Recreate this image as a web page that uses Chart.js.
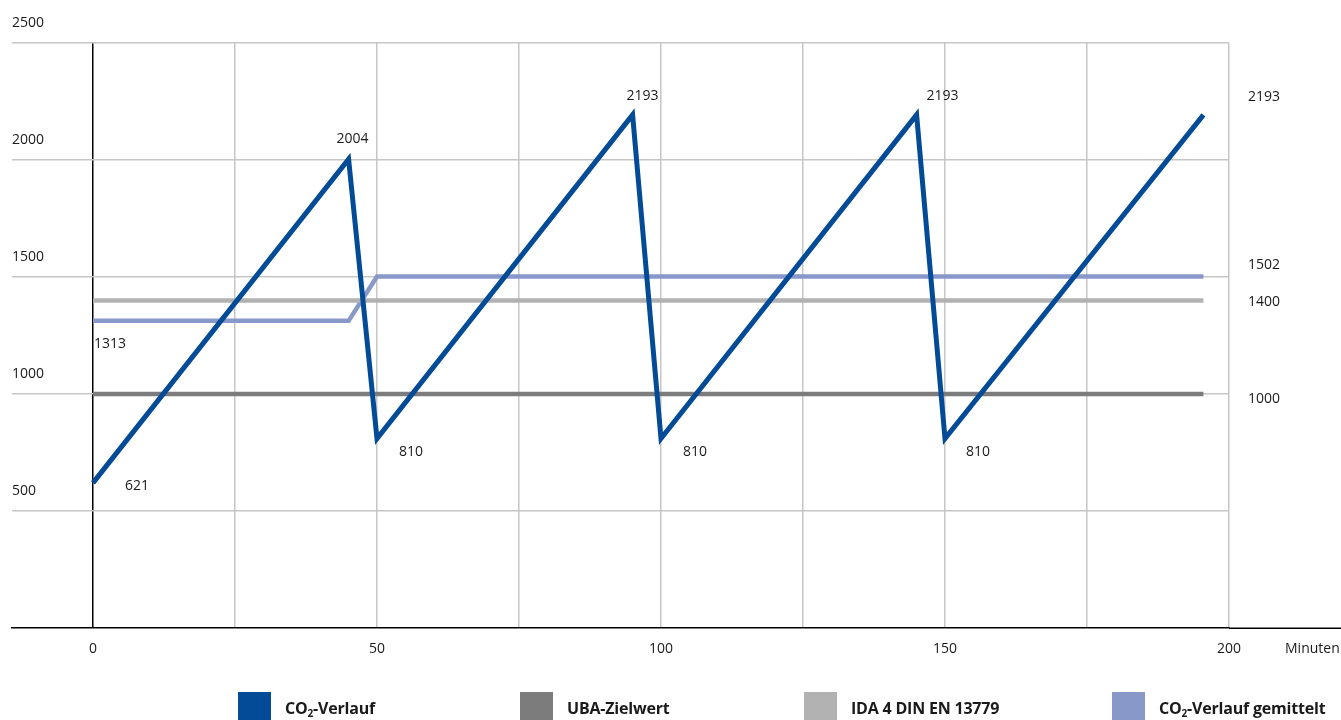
<!DOCTYPE html>
<html>
<head>
<meta charset="utf-8">
<script src="https://cdn.jsdelivr.net/npm/chart.js@4.4.1/dist/chart.umd.min.js"></script>
<style>
  html, body { margin: 0; padding: 0; background: #fff; }
  #wrap { position: relative; width: 1341px; height: 720px; overflow: hidden; }
  #chart { position: absolute; left: 0; top: 0; }
  .legend-item { position: absolute; top: 692px; height: 28px; display: flex; align-items: flex-start; }
  .legend-box { width: 33px; height: 28px; }
  .legend-txt { margin-left: 14px; margin-top: 7px; font-family: "Open Sans", sans-serif; font-weight: 700; font-size: 16px; color: #1a1a1a; letter-spacing: -0.2px; line-height: 18px; }
  .legend-txt sub { font-size: 10px; line-height: 0; vertical-align: -3px; }
</style>
</head>
<body>
<div id="wrap">
  <canvas id="chart" width="1341" height="720"></canvas>
  <div class="legend-item" style="left:238px"><div class="legend-box" style="background:#034b96"></div><div class="legend-txt">CO<sub>2</sub>-Verlauf</div></div>
  <div class="legend-item" style="left:520px"><div class="legend-box" style="background:#7c7c7c"></div><div class="legend-txt">UBA-Zielwert</div></div>
  <div class="legend-item" style="left:804px"><div class="legend-box" style="background:#b2b2b2"></div><div class="legend-txt">IDA 4 DIN EN 13779</div></div>
  <div class="legend-item" style="left:1112px"><div class="legend-box" style="background:#8898c9"></div><div class="legend-txt">CO<sub>2</sub>-Verlauf gemittelt</div></div>
</div>
<script>
// ---- data (minutes / ppm) ----
const co2Minutes = [0, 45, 50, 95, 100, 145, 150, 195.5];
const co2Verlauf = [621, 2004, 810, 2193, 810, 2193, 810, 2193];
const avgMinutes = [0, 45, 50, 195.5];
const co2Gemittelt = [1313, 1313, 1502, 1502];
const limitMinutes = [0, 195.5];
const ubaZielwert = [1000, 1000];
const idaGrenze = [1400, 1400];
const xTicks = [0, 25, 50, 75, 100, 125, 150, 175, 200];
const yTicks = [0, 500, 1000, 1500, 2000, 2500];

const FONT = '"Open Sans", sans-serif';
const GRID = '#c6c6c6';

function pts(xs, ys) {
  return xs.map(function(x, i) { return { x: x, y: ys[i] }; });
}

// value labels: dataset, point, offset of text (left, baseline) from point
const valueLabels = [
  { ds: 0, i: 0, dx: 32, dy: 7 },
  { ds: 0, i: 1, dx: -12, dy: -16 },
  { ds: 0, i: 2, dx: 22, dy: 17 },
  { ds: 0, i: 3, dx: -6, dy: -15 },
  { ds: 0, i: 4, dx: 22, dy: 17 },
  { ds: 0, i: 5, dx: 10, dy: -15 },
  { ds: 0, i: 6, dx: 21, dy: 17 },
  { ds: 3, i: 0, dx: 1, dy: 27 },
  // right column
  { ds: 0, i: 7, right: true, dy: -14 },
  { ds: 3, i: 3, right: true, dy: -8 },
  { ds: 2, i: 1, right: true, dy: 6 },
  { ds: 1, i: 1, right: true, dy: 9 }
];

const extras = {
  id: 'extras',
  afterDraw(chart) {
    const ctx = chart.ctx;
    const xs = chart.scales.x, ys = chart.scales.y;
    const ca = chart.chartArea;
    ctx.save();
    // x axis line runs on past the plot to the right edge
    ctx.strokeStyle = '#000';
    ctx.lineWidth = 1.5;
    ctx.beginPath();
    ctx.moveTo(ca.right, ys.getPixelForValue(0));
    ctx.lineTo(chart.width, ys.getPixelForValue(0));
    ctx.stroke();

    ctx.font = '14px ' + FONT;
    ctx.fillStyle = '#1a1a1a';
    ctx.textBaseline = 'alphabetic';
    ctx.textAlign = 'left';
    valueLabels.forEach(function(l) {
      const d = chart.data.datasets[l.ds].data[l.i];
      const px = l.right ? ca.right + 19 : xs.getPixelForValue(d.x) + l.dx;
      const py = ys.getPixelForValue(d.y) + l.dy;
      ctx.fillText(String(d.y), px, py);
    });
    ctx.fillText('Minuten', ca.right + 56, ys.getPixelForValue(0) + 25);
    ctx.restore();
  }
};

const common = { fill: false, tension: 0, pointRadius: 0, borderWidth: 4.5, borderCapStyle: 'butt', borderJoinStyle: 'miter' };

new Chart(document.getElementById('chart'), {
  type: 'line',
  data: {
    datasets: [
      Object.assign({ label: 'CO2-Verlauf', data: pts(co2Minutes, co2Verlauf), borderColor: '#034b96' }, common, { borderWidth: 5 }),
      Object.assign({ label: 'UBA-Zielwert', data: pts(limitMinutes, ubaZielwert), borderColor: '#7c7c7c' }, common),
      Object.assign({ label: 'IDA 4 DIN EN 13779', data: pts(limitMinutes, idaGrenze), borderColor: '#b2b2b2' }, common),
      Object.assign({ label: 'CO2-Verlauf gemittelt', data: pts(avgMinutes, co2Gemittelt), borderColor: '#8898c9' }, common)
    ]
  },
  options: {
    responsive: false,
    animation: false,
    events: [],
    layout: { padding: { left: 12, top: 43, right: 112, bottom: 51 } },
    plugins: { legend: { display: false }, tooltip: { enabled: false } },
    scales: {
      x: {
        type: 'linear',
        min: -14.26,
        max: 200,
        afterBuildTicks: function(s) { s.ticks = xTicks.map(function(v) { return { value: v }; }); },
        border: { display: true, color: '#000', width: 1.5 },
        grid: {
          drawTicks: false,
          lineWidth: 1.5,
          color: function(c) { return c.tick && c.tick.value === 0 ? '#000' : GRID; }
        },
        ticks: {
          padding: 12,
          color: '#1a1a1a',
          font: { family: FONT, size: 14 },
          maxRotation: 0,
          autoSkip: false,
          callback: function(v) { return v % 50 === 0 ? String(v) : ''; }
        }
      },
      y: {
        min: 0,
        max: 2500,
        afterBuildTicks: function(s) { s.ticks = yTicks.map(function(v) { return { value: v }; }); },
        border: { display: false },
        grid: {
          drawTicks: false,
          lineWidth: 1.5,
          color: function(c) { return c.tick && c.tick.value === 0 ? 'rgba(0,0,0,0)' : GRID; }
        },
        ticks: {
          mirror: true,
          padding: 0,
          labelOffset: -20,
          color: '#1a1a1a',
          font: { family: FONT, size: 14 },
          callback: function(v) { return v === 0 ? '' : String(v); }
        }
      }
    }
  },
  plugins: [extras]
});
</script>
</body>
</html>
